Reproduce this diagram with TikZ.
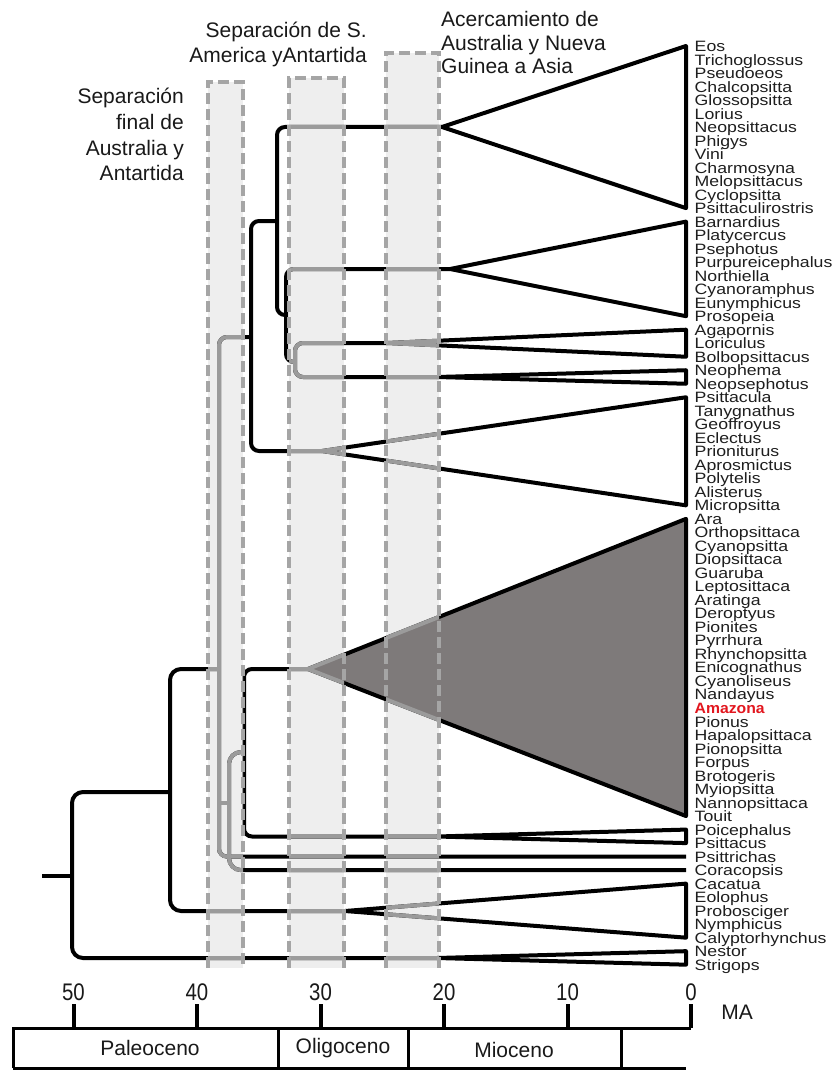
\documentclass[tikz,border=0pt]{standalone}
\usepackage{fontspec}
\setmainfont{Liberation Sans}
\newfontfamily\labfont[FakeStretch=1.18]{Liberation Sans}
\newfontfamily\amzfont[FakeStretch=1.05]{Liberation Sans}
\newfontfamily\axfont[FakeStretch=0.85]{Liberation Sans}
\definecolor{bandfill}{RGB}{238,238,238}
\definecolor{bandline}{RGB}{165,165,165}
\definecolor{inband}{RGB}{155,155,155}
\definecolor{neofill}{RGB}{126,122,122}
\definecolor{amzred}{RGB}{226,22,30}
\definecolor{labcol}{RGB}{30,30,30}
\newcommand\treecol{black}
\newcommand\phylo{%
  \draw[br] (42,876) -- (72,876);
  \draw[br,rounded corners=11pt] (170,792) -- (72,792) -- (72,958) -- (aNes);
  \draw[br,rounded corners=11pt] (219,669) -- (170,669) -- (170,911) -- (aCac);
  \draw[br] (251,337) -- (219,337) -- (219,856.6) -- (r60);
  \draw[br,rounded corners=12pt] (244,752) -- (229,752) -- (229,870.1) -- (r61);
  \draw[br,sharp corners] (219,803) -- (229,803);
  \draw[br] (aNeo) -- (244,669) -- (244,836.5) -- (aPoi);
  \draw[br] (277,221) -- (251,221) -- (251,451) -- (aPsi);
  \draw[br] (aLor) -- (277,127) -- (277,315) -- (286,315);
  \draw[br] (aPlat) -- (286,269) -- (286,362) -- (295,362);
  \draw[br] (aAga) -- (295,343) -- (295,377) -- (aNeoph);
  \draw[tri] (aLor) -- (r0) -- (r12) -- cycle;
  \draw[tri] (aPlat) -- (r13) -- (r20) -- cycle;
  \draw[tri] (aAga) -- (r21) -- (r23) -- cycle;
  \draw[tri] (aNeoph) -- (r24) -- (r25) -- cycle;
  \draw[tri] (aPsi) -- (r26) -- (r34) -- cycle;
  \draw[tri,fill=neofill] (aNeo) -- (r35) -- (r57) -- cycle;
  \draw[tri] (aPoi) -- (r58) -- (r59) -- cycle;
  \draw[tri] (aCac) -- (r62) -- (r66) -- cycle;
  \draw[tri] (aNes) -- (r67) -- (r68) -- cycle;
}
\begin{document}
\begin{tikzpicture}[x=1pt,y=-1pt,
  br/.style={draw=\treecol,line width=4pt,rounded corners=8pt},
  tri/.style={draw=\treecol,line width=4pt,line join=round,sharp corners},
  bandf/.style={fill=bandfill,draw=none},
  bandb/.style={draw=bandline,line width=3.5pt,dash pattern=on 11pt off 5pt},
  lab/.style={anchor=base west,inner sep=0pt,text=labcol,font=\labfont\fontsize{15}{15}\selectfont},
  head/.style={inner sep=0pt,text=black!90,font=\fontsize{21}{21}\selectfont},
  axlab/.style={inner sep=0pt,text=black!90,font=\axfont\fontsize{24}{24}\selectfont},
  eplab/.style={inner sep=0pt,text=black!90,font=\fontsize{21}{21}\selectfont},
  tick/.style={draw=black,line width=4pt},
  boxl/.style={draw=black,line width=3pt}]
\useasboundingbox (0,0) rectangle (832,1070);
% bands
\fill[bandf] (208,82) rectangle (243,968);
\fill[bandf] (289,78) rectangle (344,968);
\fill[bandf] (386,53) rectangle (439,968);
% taxon rows and labels
\foreach \nm [count=\i from 0] in {Eos,Trichoglossus,Pseudoeos,Chalcopsitta,Glossopsitta,Lorius,Neopsittacus,Phigys,Vini,Charmosyna,Melopsittacus,Cyclopsitta,Psittaculirostris,Barnardius,Platycercus,Psephotus,Purpureicephalus,Northiella,Cyanoramphus,Eunymphicus,Prosopeia,Agapornis,Loriculus,Bolbopsittacus,Neophema,Neopsephotus,Psittacula,Tanygnathus,Geoffroyus,Eclectus,Prioniturus,Aprosmictus,Polytelis,Alisterus,Micropsitta,Ara,Orthopsittaca,Cyanopsitta,Diopsittaca,Guaruba,Leptosittaca,Aratinga,Deroptyus,Pionites,Pyrrhura,Rhynchopsitta,Enicognathus,Cyanoliseus,Nandayus,{\textcolor{amzred}{\amzfont\bfseries Amazona}},Pionus,Hapalopsittaca,Pionopsitta,Forpus,Brotogeris,Myiopsitta,Nannopsittaca,Touit,Poicephalus,Psittacus,Psittrichas,Coracopsis,Cacatua,Eolophus,Probosciger,Nymphicus,Calyptorhynchus,Nestor,Strigops}{
  \coordinate (r\i) at (686,{46+13.51*\i});
  \node[lab] (l\i) at ([xshift=8.5pt,yshift=-5.5pt]r\i) {\nm};
}
% clade apexes
\coordinate (aLor) at (442,127);
\coordinate (aPlat) at (450,269);
\coordinate (aAga) at (387,343);
\coordinate (aNeoph) at (437,377);
\coordinate (aPsi) at (322,451);
\coordinate (aNeo) at (308,669);
\coordinate (aPoi) at (437,836.5);
\coordinate (aCac) at (345,911);
\coordinate (aNes) at (437,958);
% tree (black)
\phylo
% tree seen through the bands (grey)
\begin{scope}
  \clip (208,82) rectangle (243,968) (289,78) rectangle (344,968) (386,53) rectangle (439,968);
  \renewcommand\treecol{inband}
  \phylo
\end{scope}
% band borders
\draw[bandb] (208,968) -- (208,82) -- (243,82) -- (243,968);
\draw[bandb] (289,968) -- (289,78) -- (344,78) -- (344,968);
\draw[bandb] (386,968) -- (386,53) -- (439,53) -- (439,968);
% headers
\node[head,anchor=base east] (h1a) at (367,38) {Separación de S.};
\node[head,anchor=base east] (h1b) at (367,63) {America yAntartida};
\node[head,anchor=base east] (h2a) at (184,104) {Separación};
\node[head,anchor=base east] (h2b) at (184,130) {final de};
\node[head,anchor=base east] (h2c) at (184,155) {Australia y};
\node[head,anchor=base east] (h2d) at (184,180) {Antartida};
\node[head,anchor=base west] (h3a) at (441,27) {Acercamiento de};
\node[head,anchor=base west] (h3b) at (441,51) {Australia y Nueva};
\node[head,anchor=base west] (h3c) at (441,74) {Guinea a Asia};
% axis
\foreach \v [count=\k from 0] in {50,40,30,20,10,0}{
  \coordinate (t\k) at ({73.5+123.5*\k},1028);
  \draw[tick] (t\k) -- ++(0,-24);
  \node[axlab] (v\k) at ({73.5+123.5*\k},992) {\v};
}
\node[eplab] (ma) at (737,1012) {MA};
\draw[boxl] (13,1068) -- (13,1028) -- (t5);
\draw[boxl] (13,1068) -- (686,1068);
\coordinate (d1) at (278,1028);
\coordinate (d2) at (408,1028);
\coordinate (d3) at (621,1028);
\draw[boxl] (d1) -- ++(0,40);
\draw[boxl] (d2) -- ++(0,40);
\draw[boxl] (d3) -- ++(0,40);
\node[eplab] (ep1) at (150,1048) {Paleoceno};
\node[eplab] (ep2) at (343,1048) {Oligoceno};
\node[eplab] (ep3) at (514,1050) {Mioceno};
\end{tikzpicture}
\end{document}
